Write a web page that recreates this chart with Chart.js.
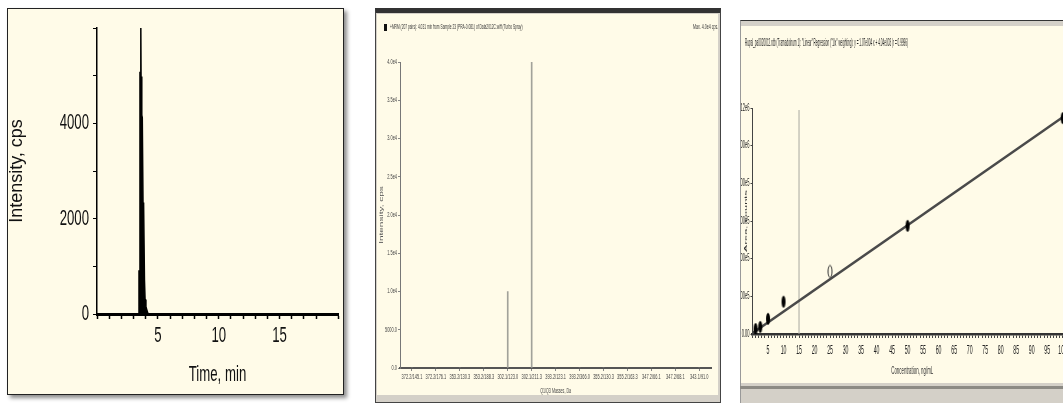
<!DOCTYPE html>
<html>
<head>
<meta charset="utf-8">
<script src="https://cdn.jsdelivr.net/npm/chart.js@4.4.1/dist/chart.umd.min.js"></script>
<style>
html, body { margin: 0; padding: 0; background: #fff; width: 1063px; height: 403px; overflow: hidden; position: relative; }
.abs { position: absolute; box-sizing: border-box; }
#f1 { left: 7px; top: 8px; width: 337px; height: 387px; border: 1px solid #222; background: #fffbe8; box-shadow: 3px 3px 4px rgba(0,0,0,.45); }
#f2 { left: 375px; top: 8px; width: 346px; height: 395px; background: #d4d0c8; border: 1px solid #444; border-top: 5px solid #333; }
#f3 { left: 740px; top: 20px; width: 345px; height: 383px; background: #d4d0c8; border-top: 1px solid #333; border-left: 1px solid #999; }
#f3band { left: 740px; top: 386px; width: 330px; height: 3px; background: #8c8a84; }
canvas { position: absolute; background: #fffbe8; }
.hdr { position: absolute; white-space: nowrap; color: #333; transform-origin: 0 50%;
       font-family: 'Liberation Sans', Arial, sans-serif; }
.mark { position: absolute; background: #111; }
</style>
</head>
<body>
<div class="abs" id="f1"></div>
<div class="abs" id="f2"></div>
<div class="abs" id="f3"></div>
<div class="abs" id="f3band"></div>

<canvas id="c1" width="335" height="385" style="left:8px;top:9px"></canvas>
<canvas id="c2" width="341" height="381" style="left:377px;top:14px"></canvas>
<canvas id="c3" width="340" height="357" style="left:741px;top:26px"></canvas>

<div class="mark" style="left:384px;top:24px;width:3px;height:7px"></div>
<div class="hdr" style="left:390px;top:23px;font-size:6.5px;transform:scaleX(0.5)">+MRM (207 pairs): 4.031 min from Sample 23 (PRA-0.081) of Data2012C.wiff (Turbo Spray)</div>
<div class="hdr" style="left:693px;top:23px;font-size:6.5px;transform:scaleX(0.55)">Max. 4.0e4 cps.</div>
<div class="hdr" style="left:745px;top:37px;font-size:10px;color:#222;transform:scaleX(0.31)">Rupal_pa0020012.rdb (Tramadolnum 1): "Linear" Regression ("1/x" weighting): y = 1.07e004 x + 4.04e003 (r = 0.9996)</div>

<script>
/* ============================================
   DATA
============================================ */
// chromatogram (panel 1)
const chromTime      = [0, 3.40, 3.45, 3.50, 3.53, 3.56, 3.60, 3.62, 3.68, 3.72, 3.78, 3.83, 3.90, 3.95, 4.02, 4.10, 4.20, 19.8];
const chromIntensity = [0, 0,    900,  800,  5000, 4950, 5900, 4900, 4100, 4050, 2300, 2250, 700,  300,  150,  80,   0,    0];
const chromYLabels   = ['0', '', '2000', '', '4000', '', ''];
const chromXLabels   = [5, 10, 15];

// MRM spectrum (panel 2)
const mrmPairs = ['372.2/145.1', '372.2/176.1', '353.2/130.3', '353.2/188.3', '302.1/123.0', '302.1/211.3',
                  '393.2/123.1', '393.2/366.0', '355.2/130.3', '355.2/163.3', '347.2/66.1', '347.2/68.1', '343.1/91.0'];
const mrmIntensity = [0, 0, 0, 0, 10000, 40000, 0, 0, 0, 0, 0, 0, 0];
const mrmYLabels = ['0.0', '5000.0', '1.0e4', '1.5e4', '2.0e4', '2.5e4', '3.0e4', '3.5e4', '4.0e4'];

// calibration curve (panel 3)
const calConc = [1, 2.5, 5, 10, 25, 50, 100];
const calArea = [25000, 35000, 75000, 160000, 310000, 536000, 1070000];
const calExcluded = [false, false, false, false, true, false, false];
const fitConc = [0, 100];
const fitArea = [4040, 1074000];
const cursorConc = [15, 15];
const cursorArea = [0, 1110000];
const calYLabels = ['0.00', '2.00e5', '4.00e5', '6.00e5', '8.00e5', '1.00e6', '1.12e6'];
const calXLabels = [5, 10, 15, 20, 25, 30, 35, 40, 45, 50, 55, 60, 65, 70, 75, 80, 85, 90, 95, 100];

/* ============================================
   HELPERS
============================================ */
const NARROW = "'Liberation Sans Narrow', 'Liberation Sans', Arial, sans-serif";
Chart.defaults.font.family = NARROW;
Chart.defaults.color = '#222';
Chart.defaults.animation = false;

// the originals use very condensed lettering; squeeze it when the narrow face is missing
function hasFont(name) {
    const g = document.createElement('canvas').getContext('2d');
    g.font = '40px monospace';
    const a = g.measureText('mmmWW0123').width;
    g.font = "40px '" + name + "', monospace";
    return g.measureText('mmmWW0123').width !== a;
}
const NARROW_REL = hasFont('Liberation Sans Narrow') ? 0.82 : 1;

// horizontal (page x) squeeze around the text anchor, also for rotated titles
const squeeze = {
    id: 'squeeze',
    beforeDraw(chart, args, opts) {
        const ctx = chart.ctx;
        if (ctx._squeezed) return;
        const fill = ctx.fillText.bind(ctx);
        const f = opts.factor / NARROW_REL;
        ctx.fillText = function (text, x, y, maxWidth) {
            if (!this.font.includes('Narrow') || f === 1) return fill(text, x, y, maxWidth);
            const m = this.getTransform();
            const p = m.transformPoint(new DOMPoint(x, y));
            this.save();
            this.setTransform(new DOMMatrix().translate(p.x, p.y).scale(f, 1).translate(-p.x, -p.y).multiply(m));
            fill(text, x, y, maxWidth);
            this.restore();
        };
        ctx._squeezed = true;
    }
};

const xy = (xs, ys) => xs.map((x, i) => ({ x: x, y: ys[i] }));
const fixW = w => scale => { scale.width = w; };
const fixH = h => scale => { scale.height = h; };

function ellipseMark(filled) {
    const c = document.createElement('canvas');
    c.width = 6; c.height = 14;
    const g = c.getContext('2d');
    g.beginPath();
    g.ellipse(3, 7, 2, 6, 0, 0, Math.PI * 2);
    if (filled) { g.fillStyle = '#000'; g.fill(); }
    else { g.strokeStyle = '#333'; g.lineWidth = 1; g.stroke(); }
    return c;
}

/* ============================================
   PANEL 1 - CHROMATOGRAM
============================================ */
new Chart(document.getElementById('c1'), {
    type: 'line',
    data: {
        datasets: [{
            data: xy(chromTime, chromIntensity),
            borderColor: '#000',
            backgroundColor: '#000',
            borderWidth: 1.5,
            fill: 'origin',
            pointRadius: 0,
            tension: 0
        }]
    },
    plugins: [squeeze],
    options: {
        responsive: false,
        layout: { padding: { left: 0, top: 19, right: 5, bottom: 0 } },
        plugins: { legend: { display: false }, tooltip: { enabled: false }, squeeze: { factor: 0.6 } },
        scales: {
            x: {
                type: 'linear', min: 0, max: 19.8,
                afterFit: fixH(80),
                border: { color: '#000', width: 3 },
                grid: { drawOnChartArea: false, color: '#000', tickLength: 5, tickWidth: 1.5 },
                ticks: {
                    stepSize: 1, autoSkip: false, maxRotation: 0, minRotation: 0, padding: 4,
                    color: '#111', font: { size: 22 },
                    callback: v => chromXLabels.includes(v) ? v : ''
                },
                title: { display: true, text: 'Time, min', color: '#111', font: { size: 22 }, padding: { top: 0, bottom: 6 } }
            },
            y: {
                min: 0, max: 5900,
                afterFit: fixW(89),
                border: { color: '#000', width: 1.5 },
                grid: { drawOnChartArea: false, color: '#000', tickLength: 4, tickWidth: 1 },
                ticks: {
                    stepSize: 1000, autoSkip: false, padding: 4,
                    color: '#111', font: { size: 22 },
                    callback: (v, i) => chromYLabels[i] || ''
                },
                title: { display: true, text: 'Intensity, cps', color: '#111',
                         font: { family: "'Liberation Sans', Arial, sans-serif", size: 18 }, padding: { top: -2, bottom: 0 } }
            }
        }
    }
});

/* ============================================
   PANEL 2 - MRM SPECTRUM
============================================ */
new Chart(document.getElementById('c2'), {
    type: 'bar',
    data: {
        labels: mrmPairs,
        datasets: [{
            data: mrmIntensity,
            backgroundColor: '#a2a29a',
            barThickness: 1
        }]
    },
    plugins: [squeeze],
    options: {
        responsive: false,
        layout: { padding: { left: 0, top: 48, right: 5, bottom: 0 } },
        plugins: { legend: { display: false }, tooltip: { enabled: false }, squeeze: { factor: 0.56 } },
        scales: {
            x: {
                afterFit: fixH(27),
                border: { color: '#555', width: 2 },
                grid: { drawOnChartArea: false, offset: false, color: '#888', tickLength: 3 },
                ticks: { autoSkip: false, maxRotation: 0, minRotation: 0, padding: 2, color: '#444', font: { size: 7 } },
                title: { display: true, text: 'Q1/Q3 Masses, Da', color: '#444', font: { size: 6.5 }, padding: { top: 0, bottom: 0 } }
            },
            y: {
                min: 0, max: 40000,
                afterFit: fixW(23),
                border: { color: '#777', width: 1, dash: [2, 2] },
                grid: { drawOnChartArea: false, color: '#888', tickLength: 2 },
                ticks: {
                    stepSize: 5000, autoSkip: false, padding: 1, color: '#444', font: { size: 7 },
                    callback: (v, i) => mrmYLabels[i]
                },
                title: { display: true, text: 'Intensity, cps', color: '#555', font: { size: 10 }, padding: { top: -1.5, bottom: 0 } }
            }
        }
    }
});

/* ============================================
   PANEL 3 - CALIBRATION CURVE
============================================ */
new Chart(document.getElementById('c3'), {
    type: 'scatter',
    data: {
        datasets: [
            {
                data: xy(calConc, calArea),
                pointStyle: calExcluded.map(e => ellipseMark(!e)),
                pointRadius: 6,
                showLine: false
            },
            {
                data: xy(fitConc, fitArea),
                showLine: true,
                borderColor: '#4a4a4a',
                borderWidth: 2.5,
                pointRadius: 0
            },
            {
                data: xy(cursorConc, cursorArea),
                showLine: true,
                borderColor: '#a8a8a0',
                borderWidth: 1,
                pointRadius: 0
            }
        ]
    },
    plugins: [squeeze],
    options: {
        responsive: false,
        layout: { padding: { left: 0, top: 82, right: 9, bottom: 0 } },
        plugins: { legend: { display: false }, tooltip: { enabled: false }, squeeze: { factor: 0.4 } },
        scales: {
            x: {
                type: 'linear', min: 0, max: 103,
                afterFit: fixH(49),
                border: { color: '#333', width: 2.5 },
                grid: { drawOnChartArea: false, color: '#444', tickLength: 4 },
                ticks: {
                    stepSize: 1, autoSkip: false, maxRotation: 0, minRotation: 0, padding: 5,
                    color: '#222', font: { size: 13 },
                    callback: v => calXLabels.includes(v) ? v : ''
                },
                title: { display: true, text: 'Concentration, ng/mL', color: '#333', font: { size: 11 }, padding: { top: 0, bottom: 5 } }
            },
            y: {
                min: 0, max: 1120000,
                afterFit: fixW(11.5),
                border: { color: '#444', width: 1 },
                grid: { drawOnChartArea: false, color: '#444', tickLength: 2 },
                ticks: {
                    stepSize: 200000, autoSkip: false, padding: 1, color: '#222', font: { size: 10 },
                    callback: (v, i) => calYLabels[i]
                },
                title: { display: true, text: 'Area, counts', color: '#333', font: { size: 11 }, padding: { top: -1.5, bottom: 0 } }
            }
        }
    }
});
</script>
</body>
</html>
